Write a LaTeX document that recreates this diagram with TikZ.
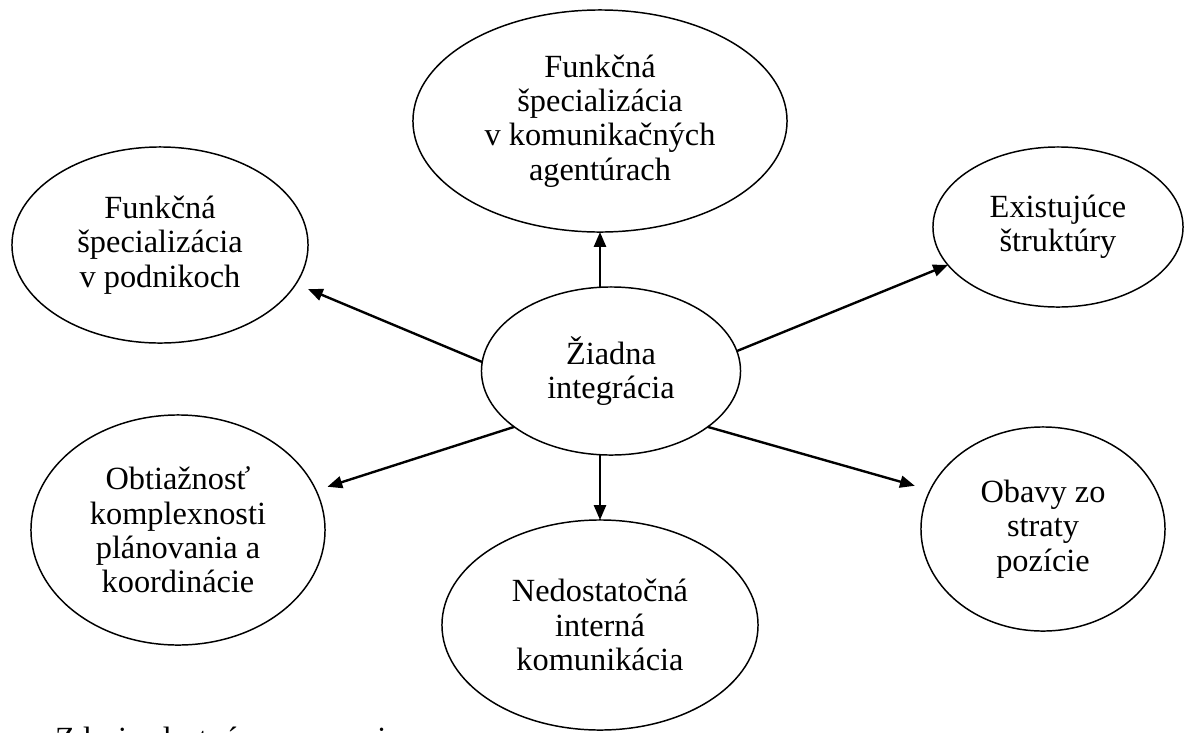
\documentclass[tikz,border=0pt]{standalone}
\usepackage{fontspec}
\setmainfont{Liberation Serif}
\usetikzlibrary{arrows.meta,shapes.geometric}

\begin{document}
\begin{tikzpicture}
[x=0.025cm,y=-0.025cm,
 every node/.style={inner sep=0mm,outer sep=0mm,align=center,font=\fontsize{23}{24.5}\selectfont},
 bubble/.style={draw=black,line width=1.05pt,ellipse},
 arr/.style={line width=1.7pt,-{Triangle[length=10.5pt,width=8.5pt]}}]
\clip (0,0) rectangle (1186,732);
\node[bubble,minimum width=7.9cm,minimum height=5.25cm] (ned) at (600,625)  {Nedostatočná\\interná\\komunikácia};
\node[bubble,minimum width=6.475cm,minimum height=4.2cm] (zi)  at (611,371)  {Žiadna\\integrácia};
\node[bubble,minimum width=9.35cm,minimum height=5.55cm] (fska) at (600,121) {Funkčná\\špecializácia\\v komunikačných\\agentúrach};
\node[bubble,minimum width=7.4cm,minimum height=4.9cm]   (fsp) at (160,245)  {Funkčná\\špecializácia\\v podnikoch};
\node[bubble,minimum width=6.25cm,minimum height=4.0cm]  (es)  at (1058,227) {Existujúce\\štruktúry};
\node[bubble,minimum width=7.35cm,minimum height=5.75cm] (obt) at (178,530)  {Obtiažnosť\\komplexnosti\\plánovania a\\koordinácie};
\node[bubble,minimum width=6.1cm,minimum height=5.1cm]   (obs) at (1043,529) {Obavy zo\\straty\\pozície};
\node[anchor=base west] (zdroj) at (55,749) {Zdroj: vlastné spracovanie};
\draw[arr] (zi.north -| fska.south) -- (fska.south);
\draw[arr] (zi.south -| ned.north)  -- (ned.north);
\draw[arr,shorten >=0.33cm] (zi.176)   -- (fsp.-16);
\draw[arr]                  (zi.9.5)   -- (es.199);
\draw[arr,shorten >=0.3cm]  (zi.210.2) -- (obt.16.8);
\draw[arr,shorten >=0.4cm]  (zi.330.6) -- (obs.161.6);
\end{tikzpicture}
\end{document}
